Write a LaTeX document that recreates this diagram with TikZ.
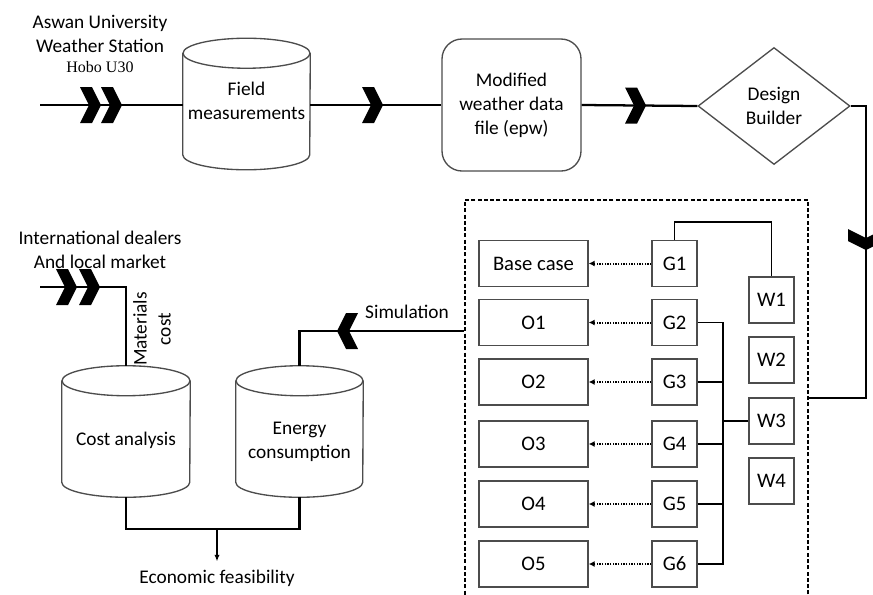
\documentclass[tikz,border=0pt]{standalone}
\usepackage{fontspec}
\setmainfont{Carlito}
\newfontfamily\serifhobo{Liberation Serif}
\usetikzlibrary{shapes.geometric,arrows.meta,calc}
\newcommand{\cylshape}[4]{% name, cx, cy, width
  \node[draw=none, minimum width=#4*0.75pt, minimum height=131*0.75pt, inner sep=0] (#1) at (#2,#3) {};
  \draw[shp, fill=white] ([yshift=-11.25pt]#1.north west) -- ([yshift=11.25pt]#1.south west)
     arc[start angle=180, end angle=360, x radius=#4/2, y radius=15]
     -- ([yshift=-11.25pt]#1.north east);
  \draw[shp] ([yshift=-11.25pt]#1.north) ellipse[x radius=#4/2, y radius=15];
}
\begin{document}
\begin{tikzpicture}[x=0.75pt, y=0.75pt,
  shp/.style={draw=gray!60!black, line width=1pt},
  conn/.style={line width=1.7pt},
  inconn/.style={line width=1.4pt},
  txt/.style={font=\fontsize{14.5}{18}\selectfont, align=center, inner sep=0pt},
  ibox/.style={shp, font=\fontsize{15.5}{18}\selectfont, inner sep=0pt, minimum height=46*0.75pt},
  dotarr/.style={line width=1.5pt, dash pattern=on 1.1pt off 0.9pt, -{Latex[length=4.5pt,width=4.5pt]}},
  chev/.pic={\fill (-21,18) -- (-9,18) -- (0,0) -- (-9,-18) -- (-21,-18) -- (-12,0) -- cycle;}
]
\useasboundingbox (0,0) rectangle (873,-594);

% ---------- top row ----------
\node[txt] (aswan) at (100,-34) {Aswan University\\Weather Station};
\node[font=\serifhobo\fontsize{12}{14}\selectfont, inner sep=0pt] (hobo) at (100,-67) {Hobo U30};
\coordinate (in1) at (40,-105);

\cylshape{fm}{246.5}{-104}{127}
\node[txt] (fmt) at (246.5,-101) {Field\\measurements};

\node[shp, rounded corners=15pt, minimum width=139*0.75pt, minimum height=132*0.75pt, txt] (mod) at (511.5,-105) {Modified\\weather data\\file (epw)};

\node[shp, diamond, aspect=1.3, minimum width=152*0.75pt, minimum height=117*0.75pt, txt] (db) at (774,-106) {Design\\Builder};

\draw[conn] (in1) -- (in1 -| fm.west);
\pic at (101,-105) {chev};
\pic at (122,-105) {chev};
\draw[conn] (fm.east |- mod.west) -- (mod.west);
\pic at (383,-105) {chev};
\draw[conn] (mod.east) -- (db.west);
\pic at (646,-105.5) {chev};

% ---------- dashed group ----------
\node[draw, line width=1.4pt, dash pattern=on 3pt off 1.7pt, minimum width=343*0.75pt, minimum height=396*0.75pt, inner sep=0pt] (dbox) at (636.5,-398) {};

\coordinate (rc) at (866,-398);
\draw[conn] (db.east) -| (rc) -- (dbox.east);
\pic[rotate=-90] at (866,-250) {chev};

% O boxes
\node[ibox, minimum width=109*0.75pt] (ob) at (533.5,-263.5) {Base case};
\node[ibox, minimum width=109*0.75pt] (o1) at (533.5,-322.5) {O1};
\node[ibox, minimum width=109*0.75pt] (o2) at (533.5,-382) {O2};
\node[ibox, minimum width=109*0.75pt] (o3) at (533.5,-444) {O3};
\node[ibox, minimum width=109*0.75pt] (o4) at (533.5,-504) {O4};
\node[ibox, minimum width=109*0.75pt] (o5) at (533.5,-564) {O5};
% G boxes
\node[ibox, minimum width=45*0.75pt] (g1) at (674.5,-263.5) {G1};
\node[ibox, minimum width=45*0.75pt] (g2) at (674.5,-322.5) {G2};
\node[ibox, minimum width=45*0.75pt] (g3) at (674.5,-382) {G3};
\node[ibox, minimum width=45*0.75pt] (g4) at (674.5,-444) {G4};
\node[ibox, minimum width=45*0.75pt] (g5) at (674.5,-504) {G5};
\node[ibox, minimum width=45*0.75pt] (g6) at (674.5,-564) {G6};
% W boxes
\node[ibox, minimum width=45*0.75pt] (w1) at (771.5,-300) {W1};
\node[ibox, minimum width=45*0.75pt] (w2) at (771.5,-360) {W2};
\node[ibox, minimum width=45*0.75pt] (w3) at (771.5,-421) {W3};
\node[ibox, minimum width=45*0.75pt] (w4) at (771.5,-481) {W4};

\draw[dotarr] (g1.west) -- (ob.east);
\draw[dotarr] (g2.west) -- (o1.east);
\draw[dotarr] (g3.west) -- (o2.east);
\draw[dotarr] (g4.west) -- (o3.east);
\draw[dotarr] (g5.west) -- (o4.east);
\draw[dotarr] (g6.west) -- (o5.east);

\draw[inconn] (g1.north) -- ++(0,18) -| (w1.north);
\coordinate (bx) at (723,-300);
\draw[inconn] (g2.east) -| (bx |- g6.east) -- (g6.east);
\draw[inconn] (g3.east) -- (g3.east -| bx);
\draw[inconn] (g4.east) -- (g4.east -| bx);
\draw[inconn] (g5.east) -- (g5.east -| bx);
\draw[inconn] (w3.west) -- (w3.west -| bx);

% ---------- bottom left ----------
\node[txt] (intl) at (100,-250) {International dealers\\And local market};
\coordinate (in2) at (40,-287);

\cylshape{ca}{126}{-431.5}{128}
\node[txt] (cat) at (126,-440) {Cost analysis};
\cylshape{ec}{299.5}{-431.5}{127}
\node[txt] (ect) at (299.5,-441.5) {Energy\\consumption};

\draw[conn] (in2) -| (ca.north);
\pic at (77,-287) {chev};
\pic at (100,-287) {chev};
\node[txt, rotate=90] (mc) at (152,-329) {Materials\\cost};

\coordinate (simy) at (0,-331);
\draw[conn] (dbox.west |- simy) -| (ec.north);
\pic[rotate=180] at (337,-331) {chev};
\node[txt] (sim) at (407,-312) {Simulation};

\node[txt] (ef) at (217,-578) {Economic feasibility};
\coordinate (jn) at (217,-529);
\draw[conn] (ca.south) -- (ca.south |- jn) -- (ec.south |- jn) -- (ec.south);
\draw[inconn, -{Latex[length=5pt,width=4pt]}] (jn) -- ([yshift=6pt]ef.north);
\end{tikzpicture}
\end{document}
